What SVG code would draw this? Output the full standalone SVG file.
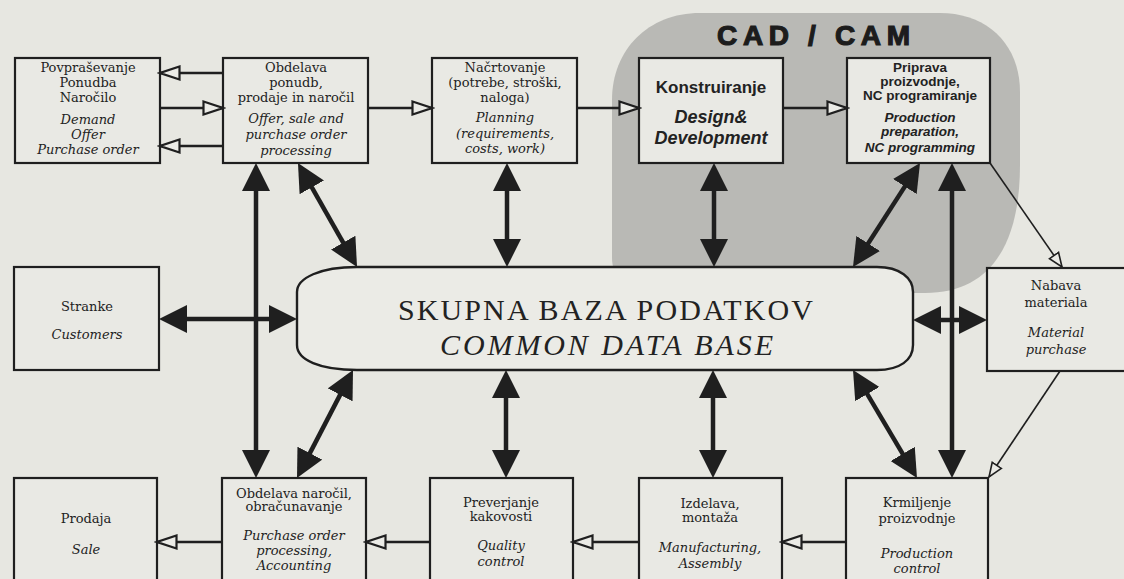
<svg xmlns="http://www.w3.org/2000/svg" width="1124" height="579" viewBox="0 0 1124 579">
<defs>
<style>
.bx{fill:#e9e9e4;stroke:#1f1f1f;stroke-width:2.2}
.s{font-family:"DejaVu Serif","Liberation Serif",serif;font-size:13px;fill:#222;text-anchor:middle}
.i{font-style:italic}
.b{font-family:"Liberation Sans","Arial",sans-serif;font-weight:bold;fill:#222;text-anchor:middle}
.fl{stroke:#1f1f1f;stroke-width:4.5;fill:none;marker-start:url(#fa);marker-end:url(#fa)}
.ol{stroke:#1f1f1f;stroke-width:2.6;fill:none;marker-end:url(#oa)}
.tl{stroke:#1f1f1f;stroke-width:1.6;fill:none;marker-end:url(#ta)}
</style>
<marker id="fa" markerUnits="userSpaceOnUse" viewBox="0 0 28 28" markerWidth="28" markerHeight="28" refX="18" refY="14" orient="auto-start-reverse"><path d="M0,0 L28,14 L0,28 Z" fill="#1f1f1f"/></marker>
<marker id="oa" markerUnits="userSpaceOnUse" viewBox="0 0 24 16" markerWidth="24" markerHeight="16" refX="21" refY="8" orient="auto"><path d="M1.5,1.5 L21,8 L1.5,14.5 Z" fill="#ebebe6" stroke="#1f1f1f" stroke-width="2.2"/></marker>
<marker id="ta" markerUnits="userSpaceOnUse" viewBox="0 0 18 14" markerWidth="18" markerHeight="14" refX="15" refY="7" orient="auto"><path d="M1,1.5 L15,7 L1,12.5 Z" fill="#ebebe6" stroke="#1f1f1f" stroke-width="1.6"/></marker>
</defs>
<rect x="0" y="0" width="1124" height="579" fill="#e7e7e1"/>
<g id="cadcam">
<path d="M700,13 L940,13 C988,13 1020,45 1020,92 L1020,165 C1020,245 990,293 925,293 L650,293 C628,293 612,278 612,258 L612,100 C612,50 648,13 700,13 Z" fill="#b9b9b5"/>
<text x="717" y="45" font-family="Liberation Sans, Arial, sans-serif" font-weight="bold" font-size="28" fill="#1c1c1c" stroke="#1c1c1c" stroke-width="1.2" textLength="193" lengthAdjust="spacing">CAD / CAM</text>
</g>
<g id="database">
<path d="M357,267 L877,267 C900,267 913,278 913,292 L913,345 C913,360 900,370 877,370 L357,370 C320,370 297,360 297,345 L297,292 C297,278 320,267 357,267 Z" fill="#ebebe6" stroke="#1f1f1f" stroke-width="2.4"/>
<text x="398" y="320" font-family="Liberation Serif, serif" font-size="30" fill="#222" textLength="415" lengthAdjust="spacing">SKUPNA BAZA PODATKOV</text>
<text x="440" y="355" font-family="Liberation Serif, serif" font-style="italic" font-size="30" fill="#222" textLength="333" lengthAdjust="spacing">COMMON DATA BASE</text>
</g>
<g id="n-povprasevanje">
<rect class="bx" x="15" y="58" width="145" height="105"/>
<text class="s" x="88" y="72">Povpraševanje</text>
<text class="s" x="88" y="87">Ponudba</text>
<text class="s" x="88" y="102">Naročilo</text>
<text class="s i" x="88" y="124">Demand</text>
<text class="s i" x="88" y="139">Offer</text>
<text class="s i" x="88" y="154">Purchase order</text>
</g>
<g id="n-obdelava-ponudb">
<rect class="bx" x="223" y="58" width="145" height="105"/>
<text class="s" x="296" y="72">Obdelava</text>
<text class="s" x="296" y="87">ponudb,</text>
<text class="s" x="296" y="102">prodaje in naročil</text>
<text class="s i" x="296" y="123">Offer, sale and</text>
<text class="s i" x="296" y="139">purchase order</text>
<text class="s i" x="296" y="155">processing</text>
</g>
<g id="n-nacrtovanje">
<rect class="bx" x="432" y="58" width="145" height="105"/>
<text class="s" x="505" y="72">Načrtovanje</text>
<text class="s" x="505" y="87">(potrebe, stroški,</text>
<text class="s" x="505" y="102">naloga)</text>
<text class="s i" x="505" y="122">Planning</text>
<text class="s i" x="505" y="138">(requirements,</text>
<text class="s i" x="505" y="153">costs, work)</text>
</g>
<g id="n-konstruiranje">
<rect class="bx" x="639" y="58" width="144" height="105"/>
<text class="b" x="711" y="93" font-size="17">Konstruiranje</text>
<text class="b i" x="711" y="123" font-size="18">Design&amp;</text>
<text class="b i" x="711" y="144" font-size="18">Development</text>
</g>
<g id="n-priprava">
<rect class="bx" x="847" y="58" width="143" height="105"/>
<text class="b" x="920" y="72" font-size="13.5">Priprava</text>
<text class="b" x="920" y="86" font-size="13.5">proizvodnje,</text>
<text class="b" x="920" y="100" font-size="13.5">NC programiranje</text>
<text class="b i" x="920" y="122" font-size="13.5">Production</text>
<text class="b i" x="920" y="136" font-size="13.5">preparation,</text>
<text class="b i" x="920" y="152" font-size="13.5">NC programming</text>
</g>
<g id="n-stranke">
<rect class="bx" x="14" y="267" width="145" height="103"/>
<text class="s" x="87" y="311" font-size="15">Stranke</text>
<text class="s i" x="87" y="339" font-size="15">Customers</text>
</g>
<g id="n-nabava">
<rect class="bx" x="987" y="268" width="150" height="103"/>
<text class="s" x="1056" y="290" font-size="15">Nabava</text>
<text class="s" x="1056" y="307" font-size="15">materiala</text>
<text class="s i" x="1056" y="337" font-size="15">Material</text>
<text class="s i" x="1056" y="354" font-size="15">purchase</text>
</g>
<g id="n-prodaja">
<rect class="bx" x="14" y="478" width="143" height="110"/>
<text class="s" x="86" y="523" font-size="17">Prodaja</text>
<text class="s i" x="86" y="554" font-size="17">Sale</text>
</g>
<g id="n-obdelava-narocil">
<rect class="bx" x="222" y="478" width="144" height="110"/>
<text class="s" x="294" y="498" font-size="13.5">Obdelava naročil,</text>
<text class="s" x="294" y="511" font-size="13.5">obračunavanje</text>
<text class="s i" x="294" y="540" font-size="13.5">Purchase order</text>
<text class="s i" x="294" y="555" font-size="13.5">processing,</text>
<text class="s i" x="294" y="570" font-size="13.5">Accounting</text>
</g>
<g id="n-preverjanje">
<rect class="bx" x="430" y="478" width="143" height="110"/>
<text class="s" x="501" y="507">Preverjanje</text>
<text class="s" x="501" y="521">kakovosti</text>
<text class="s i" x="501" y="550">Quality</text>
<text class="s i" x="501" y="566">control</text>
</g>
<g id="n-izdelava">
<rect class="bx" x="639" y="478" width="143" height="110"/>
<text class="s" x="710" y="508">Izdelava,</text>
<text class="s" x="710" y="522">montaža</text>
<text class="s i" x="710" y="552">Manufacturing,</text>
<text class="s i" x="710" y="568">Assembly</text>
</g>
<g id="n-krmiljenje">
<rect class="bx" x="846" y="478" width="142" height="110"/>
<text class="s" x="917" y="507">Krmiljenje</text>
<text class="s" x="917" y="523">proizvodnje</text>
<text class="s i" x="917" y="558">Production</text>
<text class="s i" x="917" y="573">control</text>
</g>
<g id="connectors">
<line class="ol" x1="223" y1="73" x2="160" y2="73"/>
<line class="ol" x1="160" y1="108" x2="223" y2="108"/>
<line class="ol" x1="223" y1="146" x2="160" y2="146"/>
<line class="ol" x1="368" y1="108" x2="432" y2="108"/>
<line class="ol" x1="577" y1="108" x2="639" y2="108"/>
<line class="ol" x1="783" y1="108" x2="847" y2="108"/>
<line class="ol" x1="222" y1="542" x2="157" y2="542"/>
<line class="ol" x1="430" y1="542" x2="366" y2="542"/>
<line class="ol" x1="639" y1="542" x2="573" y2="542"/>
<line class="ol" x1="846" y1="542" x2="782" y2="542"/>
<line class="tl" x1="990" y1="163" x2="1062" y2="267"/>
<line class="tl" x1="1060" y1="371" x2="989" y2="477"/>
<line class="fl" x1="302.9" y1="171.7" x2="352.1" y2="258.3"/>
<line class="fl" x1="507" y1="173" x2="507" y2="257"/>
<line class="fl" x1="714" y1="173" x2="714" y2="257"/>
<line class="fl" x1="914.6" y1="171.4" x2="858.4" y2="258.6"/>
<line class="fl" x1="169" y1="319" x2="287" y2="319"/>
<line class="fl" x1="923" y1="320" x2="977" y2="320"/>
<line class="fl" x1="348.4" y1="378.9" x2="301.6" y2="469.1"/>
<line class="fl" x1="506" y1="380" x2="506" y2="468"/>
<line class="fl" x1="713" y1="380" x2="713" y2="468"/>
<line class="fl" x1="858.1" y1="378.6" x2="911.9" y2="469.4"/>
<line class="fl" x1="256" y1="173" x2="256" y2="468"/>
<line class="fl" x1="952" y1="173" x2="952" y2="468"/>
</g>
</svg>
